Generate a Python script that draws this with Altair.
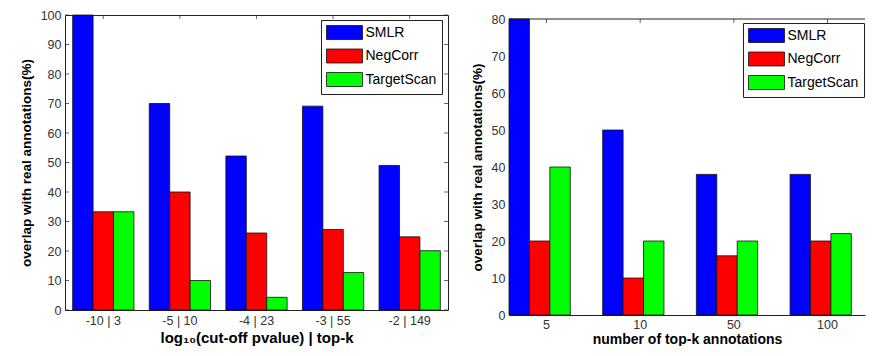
import altair as alt
import pandas as pd

series = ["SMLR", "NegCorr", "TargetScan"]
colors = ["#0000ff", "#ff0000", "#00ff00"]

left_groups = ["-10 | 3", "-5 | 10", "-4 | 23", "-3 | 55", "-2 | 149"]
left_smlr = [100, 70, 52.2, 69.1, 49.0]
left_negcorr = [33.3, 40, 26.1, 27.3, 24.8]
left_targetscan = [33.3, 10, 4.3, 12.7, 20.1]

right_groups = ["5", "10", "50", "100"]
right_smlr = [80, 50, 38, 38]
right_negcorr = [20, 10, 16, 20]
right_targetscan = [40, 20, 20, 22]

left_yticks = [0, 10, 20, 30, 40, 50, 60, 70, 80, 90, 100]
right_yticks = [0, 10, 20, 30, 40, 50, 60, 70, 80]

FONT = "Liberation Sans"
FRAME = "#222222"
YTITLE = "overlap with real annotations(%)"

# legend swatch: wide rectangle (unit = sqrt(size)/2 px)
SWATCH = "M-1,-1L4.14,-1L4.14,1L-1,1Z"


def long_df(groups, a, b, c):
    rows = []
    for g, va, vb, vc in zip(groups, a, b, c):
        rows.append({"group": g, "series": series[0], "value": va})
        rows.append({"group": g, "series": series[1], "value": vb})
        rows.append({"group": g, "series": series[2], "value": vc})
    return pd.DataFrame(rows)


def panel(df, groups, ymax, yticks, xtitle, width, height, yrange, lx, ly,
          xscale, frame_axes, xlabel_pad, xtitle_pad, xtitle_size):
    yscale = alt.Scale(domain=[0, ymax], nice=False, range=yrange)
    xaxis = alt.Axis(
        labelAngle=0,
        ticks=False,
        domain=frame_axes,
        domainColor=FRAME,
        domainWidth=1,
        labelPadding=xlabel_pad,
        titlePadding=xtitle_pad,
        labelFont=FONT,
        labelFontSize=12.5,
        labelColor="#333333",
        titleFont=FONT,
        titleFontSize=xtitle_size,
        titleFontWeight="bold",
        titleColor="black",
    )
    yaxis = alt.Axis(
        values=yticks,
        grid=False,
        ticks=False,
        domain=frame_axes,
        domainColor=FRAME,
        domainWidth=1,
        labelPadding=4,
        labelFlush=False,
        titlePadding=7,
        labelFont=FONT,
        labelFontSize=12.5,
        labelColor="#333333",
        titleFont=FONT,
        titleFontSize=13.5,
        titleFontWeight="bold",
        titleColor="black",
    )

    def X():
        return alt.X("group:N", sort=groups, title=xtitle, scale=xscale, axis=xaxis)

    def Y(field):
        return alt.Y(field, title=YTITLE, scale=yscale, axis=yaxis)

    bars = (
        alt.Chart(df)
        .mark_bar(stroke="#111111", strokeWidth=0.8)
        .encode(
            x=X(),
            xOffset=alt.XOffset(
                "series:N", sort=series, scale=alt.Scale(paddingInner=0, paddingOuter=0)
            ),
            y=Y("value:Q"),
            color=alt.Color(
                "series:N",
                sort=series,
                scale=alt.Scale(domain=series, range=colors),
                legend=alt.Legend(
                    title=None,
                    orient="none",
                    legendX=lx,
                    legendY=ly,
                    symbolType=SWATCH,
                    symbolSize=196,
                    symbolStrokeColor="#111111",
                    symbolStrokeWidth=0.8,
                    symbolOpacity=1,
                    labelFont=FONT,
                    labelFontSize=14,
                    labelColor="black",
                    labelOffset=24.5,
                    rowPadding=4.5,
                    padding=5,
                    fillColor="white",
                    strokeColor=FRAME,
                ),
            ),
        )
    )

    ydf = pd.DataFrame({"value": yticks})
    xdf = pd.DataFrame({"group": groups})
    tick_style = dict(size=4, thickness=1, color=FRAME)
    top_px = yrange[1]
    y_left = alt.Chart(ydf).mark_tick(orient="horizontal", **tick_style).encode(
        y=Y("value:Q"), x=alt.value(2)
    )
    x_bottom = alt.Chart(xdf).mark_tick(orient="vertical", **tick_style).encode(
        x=X(), y=alt.value(height - 2)
    )
    x_top = alt.Chart(xdf).mark_tick(orient="vertical", **tick_style).encode(
        x=X(), y=alt.value(top_px + 2)
    )
    layers = [y_left, x_bottom, x_top]
    if frame_axes:
        top_rule = alt.Chart(pd.DataFrame({"value": [ymax]})).mark_rule(
            color=FRAME, strokeWidth=1
        ).encode(y=Y("value:Q"), x=alt.value(0), x2=alt.value(width))
        layers.append(top_rule)
    else:
        y_right = alt.Chart(ydf).mark_tick(orient="horizontal", **tick_style).encode(
            y=Y("value:Q"), x=alt.value(width - 2)
        )
        layers.append(y_right)
    return alt.layer(*layers, bars).properties(width=width, height=height)


left = panel(
    long_df(left_groups, left_smlr, left_negcorr, left_targetscan),
    left_groups,
    100,
    left_yticks,
    "log\u2081\u2080(cut-off pvalue) | top-k",
    383,
    295,
    [295, 0],
    256,
    5,
    alt.Scale(paddingInner=0.2, paddingOuter=0.1),
    False,
    4,
    4,
    15,
)
right = panel(
    long_df(right_groups, right_smlr, right_negcorr, right_targetscan),
    right_groups,
    80,
    right_yticks,
    "number of top-k annotations",
    356,
    300,
    [300, 4],
    234,
    8,
    alt.Scale(paddingInner=0.2, paddingOuter=0.0, align=0.5),
    True,
    3,
    1.5,
    14,
).properties(view=alt.ViewBackground(strokeOpacity=0))

chart = (
    alt.hconcat(left, right, spacing=21)
    .resolve_scale(color="independent")
    .configure_view(stroke=FRAME, strokeWidth=1)
    .properties(padding={"left": 10, "top": 0, "right": 0, "bottom": 0}, background="white")
)

chart.save("out.html", embed_options={"renderer": "svg", "actions": False})
